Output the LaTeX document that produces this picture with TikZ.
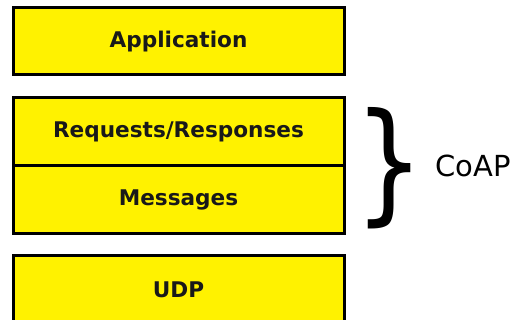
\documentclass[tikz,border=0pt]{standalone}
\usepackage{fontspec}
\setmainfont{DejaVu Sans}
\usepackage{graphicx}
\begin{document}
\begin{tikzpicture}[x=1pt,y=-1pt,
  layer/.style={draw=black, line width=3pt, fill=yellow, minimum width=331pt,
    inner sep=0pt, font=\fontsize{21.6}{24}\selectfont\bfseries, text=black!90}]
\useasboundingbox (0,0) rectangle (521,320);
\clip (0,0) rectangle (521,320);
% protocol stack
\node[layer, minimum height=67pt] (app) at (178.5,41.5) {Application};
\node[layer, minimum height=68pt] (req) at (178.5,132) {Requests/Responses};
\node[layer, minimum height=67pt] (msg) at (178.5,199.5) {Messages};
\node[layer, minimum height=69pt] (udp) at (178.5,289.5) {UDP};
% brace grouping the CoAP layers
\node[inner sep=0pt] (brace) at (390,168)
  {\resizebox{70pt}{100pt}{\}}};
\node[anchor=west, inner sep=0pt, font=\fontsize{29}{32}\selectfont] (coap)
  at (435,166) {CoAP};
\end{tikzpicture}
\end{document}
